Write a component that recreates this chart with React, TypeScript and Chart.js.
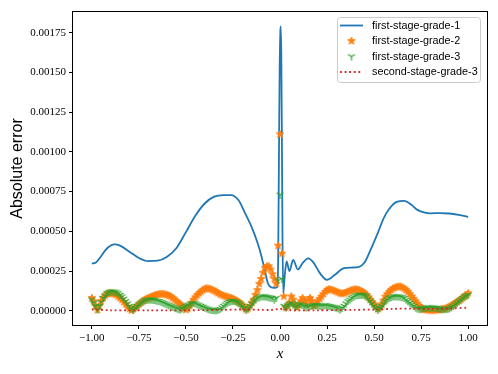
import React, { useEffect, useRef } from "react";
import { Chart, registerables } from "chart.js";
Chart.register(...registerables);

const seriesLabels = ["first-stage-grade-1", "first-stage-grade-2", "first-stage-grade-3", "second-stage-grade-3"];
const xTicks = [-1, -0.75, -0.5, -0.25, 0, 0.25, 0.5, 0.75, 1];
const yTicks = [0, 0.00025, 0.0005, 0.00075, 0.001, 0.00125, 0.0015, 0.00175];

const blueX = [-1.00,-0.98,-0.95,-0.92,-0.88,-0.85,-0.80,-0.75,-0.70,-0.65,-0.60,-0.55,-0.50,-0.45,-0.40,-0.35,-0.30,-0.26,-0.22,-0.19,-0.15,-0.12,-0.10,-0.08,-0.065,-0.05,-0.03,-0.015,-0.01,-0.006,-0.002,0.002,0.004,0.007,0.01,0.013,0.017,0.025,0.035,0.05,0.07,0.095,0.12,0.15,0.18,0.21,0.25,0.29,0.34,0.38,0.42,0.45,0.48,0.52,0.55,0.58,0.62,0.66,0.70,0.73,0.77,0.80,0.85,0.90,0.95,1.00];
const blueY = [0.000297,0.000302,0.000345,0.000392,0.000418,0.000410,0.000372,0.000332,0.000312,0.000315,0.000340,0.000395,0.000495,0.000598,0.000675,0.000718,0.000728,0.000728,0.000695,0.000625,0.000525,0.000430,0.000350,0.000250,0.000175,0.000150,0.000145,0.000150,0.000300,0.000900,0.001500,0.001760,0.001790,0.001600,0.001100,0.000500,0.000110,0.000220,0.000310,0.000250,0.000320,0.000260,0.000300,0.000330,0.000300,0.000240,0.000195,0.000225,0.000268,0.000272,0.000276,0.000305,0.000380,0.000490,0.000580,0.000640,0.000685,0.000692,0.000665,0.000635,0.000617,0.000613,0.000615,0.000612,0.000603,0.000591];

const gridX = [-1.00,-0.99,-0.98,-0.97,-0.96,-0.95,-0.94,-0.93,-0.92,-0.91,-0.90,-0.89,-0.88,-0.87,-0.86,-0.85,-0.84,-0.83,-0.82,-0.81,-0.80,-0.79,-0.78,-0.77,-0.76,-0.75,-0.74,-0.73,-0.72,-0.71,-0.70,-0.69,-0.68,-0.67,-0.66,-0.65,-0.64,-0.63,-0.62,-0.61,-0.60,-0.59,-0.58,-0.57,-0.56,-0.55,-0.54,-0.53,-0.52,-0.51,-0.50,-0.49,-0.48,-0.47,-0.46,-0.45,-0.44,-0.43,-0.42,-0.41,-0.40,-0.39,-0.38,-0.37,-0.36,-0.35,-0.34,-0.33,-0.32,-0.31,-0.30,-0.29,-0.28,-0.27,-0.26,-0.25,-0.24,-0.23,-0.22,-0.21,-0.20,-0.19,-0.18,-0.17,-0.16,-0.15,-0.14,-0.13,-0.12,-0.11,-0.10,-0.09,-0.08,-0.07,-0.06,-0.05,-0.04,-0.03,-0.02,-0.01,0.00,0.01,0.02,0.03,0.04,0.05,0.06,0.07,0.08,0.09,0.10,0.11,0.12,0.13,0.14,0.15,0.16,0.17,0.18,0.19,0.20,0.21,0.22,0.23,0.24,0.25,0.26,0.27,0.28,0.29,0.30,0.31,0.32,0.33,0.34,0.35,0.36,0.37,0.38,0.39,0.40,0.41,0.42,0.43,0.44,0.45,0.46,0.47,0.48,0.49,0.50,0.51,0.52,0.53,0.54,0.55,0.56,0.57,0.58,0.59,0.60,0.61,0.62,0.63,0.64,0.65,0.66,0.67,0.68,0.69,0.70,0.71,0.72,0.73,0.74,0.75,0.76,0.77,0.78,0.79,0.80,0.81,0.82,0.83,0.84,0.85,0.86,0.87,0.88,0.89,0.90,0.91,0.92,0.93,0.94,0.95,0.96,0.97,0.98,0.99,1.00];

const orangeY = [0.00008,0.00006,0.00003,0.000005,0.00003,0.00006,0.00008,0.000095,0.000105,0.00011,0.00011,0.00011,0.000105,0.0001,0.00009,0.00008,0.00007,0.000055,0.00004,0.000025,0.000012,0.000003,0.00001,0.00002,0.00003,0.00004,0.00005,0.00006,0.00007,0.000075,0.00008,0.000085,0.00009,0.000095,0.0001,0.000103,0.000105,0.000106,0.000105,0.000103,0.0001,0.000095,0.00009,0.00008,0.00007,0.00006,0.00005,0.00004,0.00003,0.000018,0.000006,0.000015,0.00003,0.00005,0.00007,0.000085,0.0001,0.00011,0.00012,0.00013,0.000138,0.000141,0.00014,0.000137,0.000132,0.000126,0.00012,0.000112,0.000105,0.0001,0.000095,0.000091,0.000088,0.000084,0.00008,0.000075,0.00007,0.000063,0.000055,0.000045,0.000035,0.00002,0.000008,0.000015,0.00003,0.00005,0.00007,0.0001,0.00013,0.00017,0.0002,0.00024,0.00027,0.00028,0.00028,0.00026,0.00023,0.0002,0.00017,0.00041,0.00111,0.00036,0.00009,0.00002,0.00003,0.00005,0.00009,0.00007,0.00004,0.00002,0.00004,0.00006,0.00008,0.00006,0.00004,0.00007,0.00008,0.00006,0.00003,0.00004,0.00006,0.000075,0.00009,0.000105,0.00012,0.00013,0.000135,0.000133,0.00013,0.000125,0.00012,0.000115,0.00011,0.000108,0.00011,0.000115,0.00012,0.000125,0.00013,0.000133,0.000135,0.000133,0.00013,0.000125,0.00012,0.00011,0.0001,0.000085,0.00007,0.000055,0.00004,0.000025,0.00001,0.00002,0.00004,0.000065,0.00009,0.000105,0.00012,0.00013,0.00014,0.000145,0.00015,0.000152,0.000152,0.000147,0.00014,0.00013,0.00012,0.000105,0.00009,0.000075,0.00006,0.000045,0.00003,0.00002,0.00001,0.000007,0.000005,0.000004,0.000003,0.000003,0.000003,0.000004,0.000005,0.000007,0.00001,0.000012,0.000015,0.00002,0.000025,0.000032,0.00004,0.000047,0.000055,0.000062,0.00007,0.00008,0.00009,0.0001,0.00011];

const greenY = [0.00007,0.00005,0.00003,0.000008,0.00003,0.000055,0.00008,0.000095,0.00011,0.000117,0.00012,0.000121,0.00012,0.000116,0.00011,0.0001,0.00009,0.000075,0.00006,0.000045,0.00003,0.000015,0.000005,0.000018,0.00003,0.00004,0.00005,0.000058,0.000065,0.000068,0.00007,0.00007,0.00007,0.000068,0.000065,0.000062,0.00006,0.000055,0.00005,0.000045,0.00004,0.000035,0.00003,0.000025,0.00002,0.000015,0.00001,0.000008,0.000015,0.000022,0.00003,0.000036,0.00004,0.000045,0.000048,0.000046,0.00004,0.000035,0.00003,0.000025,0.00002,0.000015,0.00001,0.000007,0.000005,0.000003,0.000003,0.000006,0.00001,0.00002,0.00003,0.00004,0.00005,0.000056,0.00006,0.000062,0.00006,0.000056,0.00005,0.00004,0.00003,0.000018,0.000005,0.000015,0.00003,0.000045,0.00006,0.00007,0.00008,0.000085,0.00009,0.00009,0.00009,0.000088,0.000085,0.000082,0.00008,0.00007,0.00008,0.00019,0.00073,0.0002,0.00003,0.00002,0.000035,0.00004,0.00005,0.00004,0.000025,0.00003,0.00004,0.00004,0.000035,0.000028,0.00002,0.000025,0.00003,0.000033,0.000035,0.000035,0.000035,0.000032,0.00003,0.000032,0.000035,0.000033,0.00003,0.000028,0.000025,0.000022,0.00002,0.000014,0.000008,0.000018,0.00003,0.000045,0.00006,0.00007,0.00008,0.000088,0.000095,0.000098,0.0001,0.0001,0.0001,0.000096,0.00009,0.000075,0.00006,0.000045,0.00003,0.000018,0.000005,0.000018,0.00003,0.000045,0.00006,0.00007,0.00008,0.000085,0.00009,0.00009,0.00009,0.00009,0.000088,0.000085,0.00008,0.00007,0.00006,0.00005,0.00004,0.00003,0.00002,0.000014,0.00001,0.000012,0.000015,0.000018,0.00002,0.00002,0.00002,0.00002,0.00002,0.000018,0.000015,0.000012,0.00001,0.00001,0.00001,0.000012,0.000015,0.000022,0.00003,0.00004,0.00005,0.00006,0.00007,0.00008,0.00009,0.000095,0.0001];

const redX = [-1.0,-0.9,-0.8,-0.7,-0.6,-0.5,-0.4,-0.3,-0.2,-0.1,-0.05,0.0,0.05,0.1,0.2,0.3,0.4,0.5,0.6,0.7,0.8,0.9,1.0];
const redY = [0.000008,0.000003,0.000002,0.000003,0.000002,0.000003,0.000004,0.000006,0.000008,0.000006,0.000005,0.000012,0.000004,0.000002,0.000003,0.000004,0.000006,0.000008,0.000012,0.000014,0.000012,0.000014,0.00002];

const COLORS = ["#1f77b4", "#ff7f0e", "#2ca02c", "#d62728"];

function zip(xs: number[], ys: number[]) {
  return xs.map((x, i) => ({ x, y: ys[i] }));
}

function makeStar(color: string) {
  const s = 12;
  const c = document.createElement("canvas");
  c.width = s; c.height = s;
  const ctx = c.getContext("2d")!;
  ctx.translate(s / 2, s / 2);
  ctx.beginPath();
  for (let i = 0; i < 10; i++) {
    const r = i % 2 === 0 ? 3.9 : 1.6;
    const a = -Math.PI / 2 + (i * Math.PI) / 5;
    ctx.lineTo(r * Math.cos(a), r * Math.sin(a));
  }
  ctx.closePath();
  ctx.fillStyle = color;
  ctx.fill();
  ctx.strokeStyle = color;
  ctx.lineWidth = 1;
  ctx.stroke();
  return c;
}

function makeTri(color: string) {
  const s = 12;
  const c = document.createElement("canvas");
  c.width = s; c.height = s;
  const ctx = c.getContext("2d")!;
  ctx.translate(s / 2, s / 2);
  const r = 3.9;
  ctx.strokeStyle = color;
  ctx.lineWidth = 1.2;
  ctx.beginPath();
  ctx.moveTo(0, 0); ctx.lineTo(0, r);
  ctx.moveTo(0, 0); ctx.lineTo(-0.866 * r, -0.5 * r);
  ctx.moveTo(0, 0); ctx.lineTo(0.866 * r, -0.5 * r);
  ctx.stroke();
  return c;
}

export default function App() {
  const ref = useRef<HTMLCanvasElement | null>(null);
  useEffect(() => {
    const canvas = ref.current!;
    const star = makeStar(COLORS[1]);
    const tri = makeTri(COLORS[2]);
    const frameAndLegend = {
      id: "frameAndLegend",
      afterDraw(chart: any) {
        const { ctx, chartArea } = chart;
        ctx.save();
        ctx.strokeStyle = "#000";
        ctx.lineWidth = 1;
        ctx.strokeRect(Math.round(chartArea.left) - 0.5, Math.round(chartArea.top) - 0.5,
          Math.round(chartArea.right - chartArea.left) + 1, Math.round(chartArea.bottom - chartArea.top) + 1);
        const bx = 337.5, by = 17.5, bw = 143, bh = 65, rad = 3;
        ctx.beginPath();
        ctx.moveTo(bx + rad, by);
        ctx.lineTo(bx + bw - rad, by);
        ctx.arcTo(bx + bw, by, bx + bw, by + rad, rad);
        ctx.lineTo(bx + bw, by + bh - rad);
        ctx.arcTo(bx + bw, by + bh, bx + bw - rad, by + bh, rad);
        ctx.lineTo(bx + rad, by + bh);
        ctx.arcTo(bx, by + bh, bx, by + bh - rad, rad);
        ctx.lineTo(bx, by + rad);
        ctx.arcTo(bx, by, bx + rad, by, rad);
        ctx.closePath();
        ctx.fillStyle = "rgba(255,255,255,0.8)";
        ctx.fill();
        ctx.strokeStyle = "#cccccc";
        ctx.lineWidth = 1;
        ctx.stroke();
        const rows = [25.5, 41, 56.5, 72];
        const hx0 = 340, hx1 = 363, hc = (hx0 + hx1) / 2;
        ctx.font = "10.8px 'Liberation Sans', Arial, sans-serif";
        ctx.textBaseline = "middle";
        ctx.textAlign = "left";
        seriesLabels.forEach((lab, i) => {
          const y = rows[i];
          if (i === 0) {
            ctx.strokeStyle = COLORS[0];
            ctx.lineWidth = 1.8;
            ctx.beginPath(); ctx.moveTo(hx0, y); ctx.lineTo(hx1, y); ctx.stroke();
          } else if (i === 1) {
            ctx.drawImage(star, hc - star.width / 2, y - star.height / 2);
          } else if (i === 2) {
            ctx.drawImage(tri, hc - tri.width / 2, y - tri.height / 2);
          } else {
            ctx.strokeStyle = COLORS[3];
            ctx.lineWidth = 1.8;
            ctx.setLineDash([1.8, 2.8]);
            ctx.beginPath(); ctx.moveTo(hx0, y); ctx.lineTo(hx1, y); ctx.stroke();
            ctx.setLineDash([]);
          }
          ctx.fillStyle = "#000";
          ctx.fillText(lab, 372, y + 0.5);
        });
        ctx.restore();
      },
    };

    const tickFont = { family: "'Liberation Serif', 'DejaVu Serif', serif", size: 11 };
    const chart = new Chart(canvas, {
      type: "scatter",
      data: {
        datasets: [
          {
            label: seriesLabels[0], data: zip(blueX, blueY), showLine: true, borderColor: COLORS[0],
            borderWidth: 1.8, pointRadius: 0, cubicInterpolationMode: "monotone", order: 4,
          },
          {
            label: seriesLabels[1], data: zip(gridX, orangeY), showLine: false, pointStyle: star as any,
            pointRadius: 4, backgroundColor: COLORS[1], borderColor: COLORS[1], order: 3,
          },
          {
            label: seriesLabels[2], data: zip(gridX, greenY), showLine: false, pointStyle: tri as any,
            pointRadius: 4, backgroundColor: COLORS[2], borderColor: COLORS[2], order: 2,
          },
          {
            label: seriesLabels[3], data: zip(redX, redY), showLine: true, borderColor: COLORS[3],
            borderWidth: 1.8, borderDash: [1.8, 2.8], pointRadius: 0, tension: 0.3, order: 1,
          },
        ] as any,
      },
      options: {
        animation: false,
        responsive: false,
        events: [],
        layout: { padding: { left: 8, right: 11, top: 12, bottom: 11 } },
        plugins: { legend: { display: false }, tooltip: { enabled: false } },
        scales: {
          x: {
            type: "linear", min: -1.1, max: 1.1,
            afterBuildTicks: (s: any) => { s.ticks = xTicks.map((v) => ({ value: v })); },
            afterFit: (s: any) => { s.height = 38; },
            grid: { drawOnChartArea: false, drawTicks: true, tickLength: 4, color: "#000", lineWidth: 1 },
            border: { display: false },
            ticks: {
              color: "#000", font: tickFont, padding: 3, maxRotation: 0, autoSkip: false,
              callback: (v: any) => (Number(v) < 0 ? "\u2212" + Math.abs(Number(v)).toFixed(2) : Number(v).toFixed(2)),
            },
            title: {
              display: true, text: "x", color: "#000", padding: 0,
              font: { family: "'Liberation Serif', 'DejaVu Serif', serif", size: 15, style: "italic" },
            },
          },
          y: {
            type: "linear", min: -0.0000895, max: 0.00188,
            afterBuildTicks: (s: any) => { s.ticks = yTicks.map((v) => ({ value: v })); },
            afterFit: (s: any) => { s.width = 65; },
            grid: { drawOnChartArea: false, drawTicks: true, tickLength: 4, color: "#000", lineWidth: 1 },
            border: { display: false },
            ticks: {
              color: "#000", font: tickFont, padding: 3, autoSkip: false,
              callback: (v: any) => Number(v).toFixed(5),
            },
            title: {
              display: true, text: "Absolute error", color: "#000", padding: 0,
              font: { family: "'Liberation Sans', Arial, sans-serif", size: 16 },
            },
          },
        },
      },
      plugins: [frameAndLegend],
    } as any);
    return () => chart.destroy();
  }, []);
  return (
    <div style={{ position: "absolute", left: 0, top: 0, width: 498, height: 374, background: "#fff" }}>
      <canvas ref={ref} width={498} height={374} style={{ display: "block", width: 498, height: 374 }} />
    </div>
  );
}
